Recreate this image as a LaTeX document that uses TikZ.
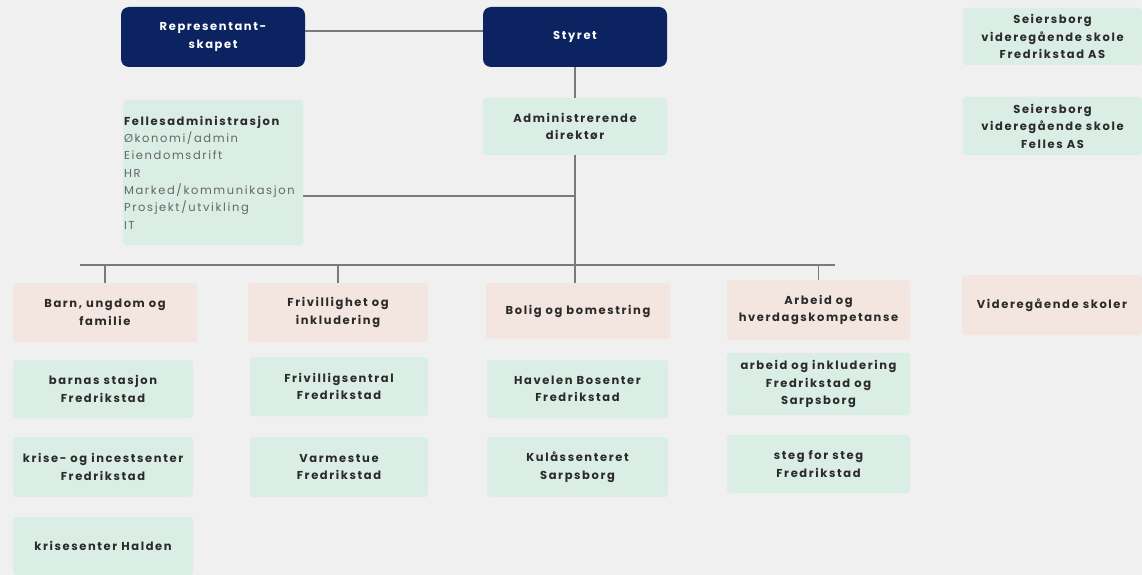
\documentclass[tikz,border=0pt]{standalone}
\usepackage{fontspec}
\setmainfont{Poppins}[LetterSpace=14]
\usetikzlibrary{calc}
\definecolor{bgc}{HTML}{F0F0F0}
\definecolor{navy}{HTML}{0B2461}
\definecolor{mint}{HTML}{DAEEE6}
\definecolor{peach}{HTML}{F3E5DF}
\definecolor{linec}{HTML}{7A7A7A}
\definecolor{txt}{HTML}{2A2A2A}
\definecolor{txtl}{HTML}{666666}
\tikzset{
  base/.style={rectangle, inner sep=2pt, align=center, font=\fontsize{11.5}{17.5}\selectfont\bfseries, text=txt},
  topbox/.style={base, fill=navy, text=white, rounded corners=8pt, minimum width=184pt, minimum height=60pt},
  unit/.style={base, fill=mint, rounded corners=3pt},
  cat/.style={base, fill=peach, rounded corners=3pt},
  conn/.style={draw=linec, line width=1.2pt},
}
\begin{document}
\begin{tikzpicture}[x=1pt,y=-1pt]
\fill[bgc] (0,0) rectangle (1142,575);
\useasboundingbox (0,0) rectangle (1142,575);

\node[topbox] (rep) at (213,37) {Representant-\\skapet};
\node[topbox] (sty) at (575,37) {Styret};
\node[unit, minimum width=180pt, minimum height=145pt, text width=178pt, align=left, font=\fontsize{11.5}{17.3}\selectfont, text=txtl, inner sep=1pt] (fel) at (213,172.5)
 {{\bfseries\color{txt}Fellesadministrasjon}\\Økonomi/admin\\Eiendomsdrift\\HR\\Marked/kommunikasjon\\Prosjekt/utvikling\\IT};
\node[unit, minimum width=184pt, minimum height=57pt] (adm) at (575,126.5) {Administrerende\\direktør};

\node[unit, minimum width=179pt, minimum height=57pt] (s1) at (1052.5,36.5) {Seiersborg\\videregående skole\\Fredrikstad AS};
\node[unit, minimum width=179pt, minimum height=58pt] (s2) at (1052.5,126) {Seiersborg\\videregående skole\\Felles AS};

\node[cat, minimum width=184pt, minimum height=59pt] (barn) at (105,312.5) {Barn, ungdom og\\familie};
\node[cat, minimum width=180pt, minimum height=59pt] (friv) at (338,312.5) {Frivillighet og\\inkludering};
\node[cat, minimum width=184pt, minimum height=56pt] (bolig) at (578,311) {Bolig og bomestring};
\node[cat, minimum width=183pt, minimum height=60pt] (arb) at (818.5,310) {Arbeid og\\hverdagskompetanse};
\node[cat, minimum width=180pt, minimum height=60pt] (vgs) at (1052,305) {Videregående skoler};

\node[unit, minimum width=180pt, minimum height=58pt] (b1) at (103,389) {barnas stasjon\\Fredrikstad};
\node[unit, minimum width=180pt, minimum height=60pt] (b2) at (103,467) {krise- og incestsenter\\Fredrikstad};
\node[unit, minimum width=180pt, minimum height=58pt] (b3) at (103,546) {krisesenter Halden};

\node[unit, minimum width=178pt, minimum height=59pt] (f1) at (339,386.5) {Frivilligsentral\\Fredrikstad};
\node[unit, minimum width=178pt, minimum height=60pt] (f2) at (339,467) {Varmestue\\Fredrikstad};

\node[unit, minimum width=181pt, minimum height=58pt] (h1) at (577.5,389) {Havelen Bosenter\\Fredrikstad};
\node[unit, minimum width=181pt, minimum height=60pt] (h2) at (577.5,467) {Kulåssenteret\\Sarpsborg};

\node[unit, minimum width=183pt, minimum height=62pt] (a1) at (818.5,384) {arbeid og inkludering\\Fredrikstad og\\Sarpsborg};
\node[unit, minimum width=183pt, minimum height=58pt] (a2) at (818.5,464) {steg for steg\\Fredrikstad};

% connectors
\coordinate (busL) at (80,265);
\coordinate (busR) at (835,265);
\coordinate (j1) at (575,196);
\draw[conn] ([yshift=6pt]rep.east) -- ([yshift=6pt]sty.west);
\draw[conn] (sty.south) -- (adm.north);
\draw[conn] (adm.south) -- (adm.south |- bolig.north);
\draw[conn] (fel.east |- j1) -- (j1);
\draw[conn] (busL) -- (busR);
\draw[conn] (barn.north |- busL) -- (barn.north);
\draw[conn] (friv.north |- busL) -- (friv.north);
\draw[conn] (arb.north |- busL) -- (arb.north);
\end{tikzpicture}
\end{document}
